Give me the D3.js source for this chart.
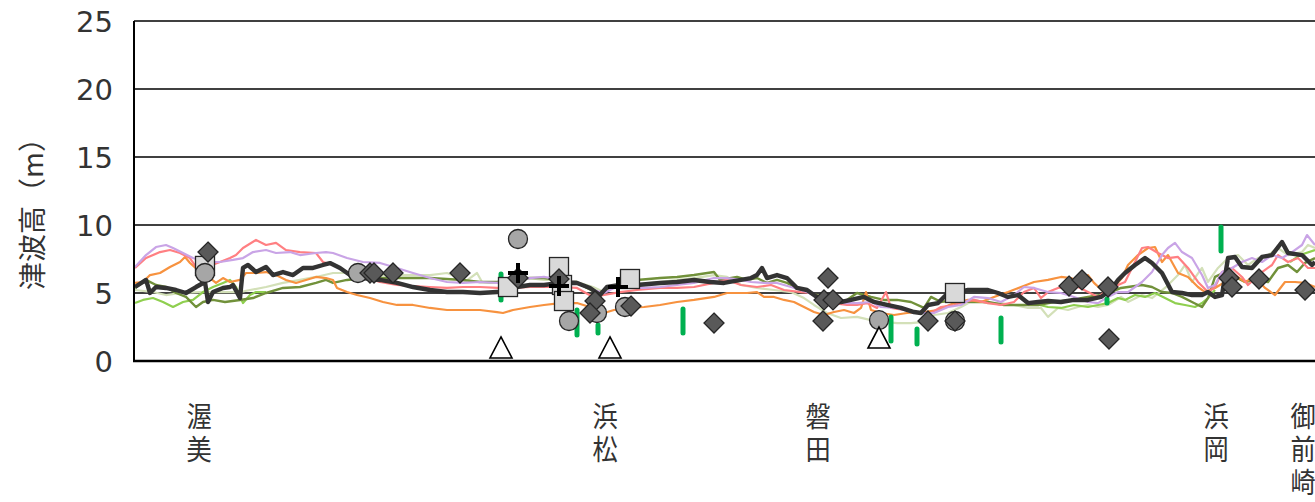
<!DOCTYPE html>
<html><head><meta charset="utf-8">
<script src="https://cdn.jsdelivr.net/npm/d3@7"></script>
<style>
html,body{margin:0;padding:0;background:#fff;}
svg{display:block;}
</style></head>
<body>
<svg id="chart" width="1315" height="502"></svg>
<script>
// ---- data (x = distance along coast, km; y = tsunami height, m) ----
const yTicks = [0, 5, 10, 15, 20, 25];
const categories = ["渥美", "浜松", "磐田", "浜岡", "御前崎"];
const categoryPos = [6.4, 47.0, 68.3, 108.1, 116.8];

const seriesDark = [[0,5.44],[1.1,5.96],[1.5,5.0],[2.1,5.44],[3.1,5.37],[4.1,5.22],[5.1,5.0],[6.1,5.44],[7.0,5.81],[7.3,4.34],[7.8,5.07],[8.8,5.37],[9.5,5.44],[9.8,5.59],[10.5,4.63],[10.8,6.84],[11.3,7.06],[12.1,6.54],[13.1,6.91],[13.8,6.32],[14.8,6.54],[15.8,6.32],[16.8,6.84],[17.8,6.84],[18.8,7.06],[19.5,7.2],[20.5,6.84],[21.5,6.32],[22.8,6.1],[24.5,5.96],[26.2,5.74],[27.8,5.44],[29.5,5.22],[31.2,5.07],[32.8,5.07],[34.5,5.0],[36.2,5.07],[37.2,5.22],[38.2,5.44],[39.5,5.59],[40.9,5.59],[42.5,5.74],[44.2,5.74],[45.5,5.37],[46.5,4.85],[47.2,5.44],[48.5,5.59],[50.2,5.59],[52.5,5.74],[54.2,5.81],[55.9,5.96],[57.5,5.81],[58.9,5.74],[60.6,5.96],[61.6,6.1],[62.2,6.32],[62.7,6.84],[63.2,6.1],[64.2,6.32],[65.2,6.1],[66.2,5.37],[67.2,5.22],[67.9,4.85],[68.6,4.49],[69.6,4.34],[70.6,4.34],[71.6,4.49],[72.9,4.71],[73.9,4.34],[75.2,4.12],[76.6,3.9],[77.9,3.6],[78.6,3.53],[79.3,4.12],[80.3,4.26],[81.3,5.0],[82.3,5.07],[83.3,5.22],[84.3,5.22],[85.3,5.22],[86.3,5.0],[87.3,4.71],[88.3,4.85],[89.3,4.26],[90.3,4.34],[91.3,4.41],[92.6,4.34],[93.9,4.49],[95.3,4.49],[96.6,4.71],[97.6,5.22],[98.3,5.96],[99.0,6.47],[100.0,7.06],[101.0,7.57],[101.7,7.21],[102.7,6.47],[103.7,5.07],[104.7,5.0],[105.7,4.85],[106.7,4.85],[107.3,5.07],[108.0,4.71],[108.7,4.85],[109.3,7.57],[110.0,7.65],[110.7,6.91],[111.7,6.84],[112.7,7.65],[113.7,7.79],[114.7,8.75],[115.3,7.94],[116.7,7.79],[117.7,7.06],[118.0,7.28]];

const seriesPink = [[0,6.84],[1.1,7.57],[2.5,8.01],[3.5,8.16],[4.5,7.94],[5.5,7.57],[6.1,6.91],[7.0,6.84],[7.7,7.06],[8.5,7.28],[9.5,7.57],[10.1,7.79],[10.8,8.31],[12.1,8.9],[13.1,8.53],[14.1,8.68],[15.1,8.16],[16.5,8.01],[18.1,7.94],[18.8,7.28],[19.8,7.06],[21.2,6.54],[22.8,6.18],[24.5,5.81],[26.2,5.59],[29.5,5.44],[31.2,5.37],[32.8,5.44],[34.5,5.44],[36.2,5.37],[37.8,5.37],[39.5,5.44],[42.5,5.44],[44.2,5.37],[45.8,4.71],[46.9,4.85],[48.5,5.07],[50.2,5.22],[52.5,5.37],[54.2,5.37],[55.9,5.44],[57.9,5.74],[59.2,5.96],[60.6,5.59],[62.2,5.44],[63.6,5.59],[64.9,5.22],[66.6,5.07],[67.6,5.0],[68.6,4.63],[69.9,4.26],[71.2,4.12],[72.2,4.12],[73.2,4.26],[74.2,3.9],[75.1,5.07],[75.6,3.9],[76.9,3.75],[78.2,3.6],[79.6,3.53],[80.6,3.97],[81.9,4.12],[82.9,4.34],[83.9,4.49],[85.3,4.26],[86.6,4.12],[87.9,4.34],[88.9,5.07],[89.9,5.37],[90.6,4.63],[91.3,5.07],[92.3,5.37],[93.3,5.44],[94.3,5.44],[95.3,5.07],[96.3,4.71],[97.3,5.22],[98.3,5.59],[99.0,5.81],[99.7,6.84],[100.7,8.31],[101.3,8.38],[102.3,7.94],[103.3,7.57],[104.3,7.65],[105.3,6.84],[106.3,5.81],[107.3,5.07],[108.0,5.44],[108.7,6.54],[109.7,6.84],[110.7,6.18],[111.3,5.59],[112.7,6.54],[113.7,7.06],[114.3,7.79],[115.3,7.28],[116.3,7.57],[117.3,6.84],[118.0,6.84]];

const seriesPurple = [[0,6.91],[1.1,7.79],[2.1,8.38],[3.1,8.53],[3.8,8.31],[4.8,7.94],[5.8,7.57],[7.0,7.28],[8.5,7.28],[9.8,7.43],[10.8,7.57],[11.8,8.01],[13.1,8.16],[14.1,7.94],[15.5,8.01],[16.5,7.79],[18.1,7.94],[19.1,8.01],[19.8,7.94],[21.2,7.57],[22.8,7.28],[24.5,7.21],[26.2,6.84],[27.8,6.47],[29.5,6.1],[31.2,5.81],[32.8,5.74],[34.5,5.81],[36.2,5.74],[37.8,5.96],[39.5,6.1],[40.9,6.18],[42.5,5.96],[44.2,5.81],[45.8,5.22],[46.9,5.0],[47.9,5.37],[49.2,5.37],[50.9,5.37],[52.5,5.44],[54.2,5.59],[55.9,5.74],[57.9,6.1],[59.2,6.1],[60.6,5.96],[61.6,5.81],[62.9,5.74],[64.2,5.74],[65.6,5.44],[67.2,5.07],[68.2,4.71],[69.6,4.49],[70.9,4.26],[72.2,4.26],[73.6,4.34],[74.6,3.97],[76.2,3.9],[77.6,3.6],[78.9,3.53],[79.9,3.53],[81.3,3.97],[82.6,4.12],[83.9,4.71],[85.3,4.63],[86.6,4.34],[87.9,4.85],[88.9,5.44],[89.9,5.37],[91.3,5.07],[92.6,5.0],[93.9,4.71],[95.3,4.34],[96.3,4.26],[97.3,4.71],[98.3,5.07],[99.3,5.07],[100.7,5.81],[101.7,6.54],[102.7,7.79],[103.3,8.31],[104.0,8.68],[104.7,8.01],[105.7,7.57],[106.7,6.32],[107.3,5.37],[108.0,5.59],[108.7,6.54],[109.7,6.84],[110.7,7.28],[111.7,7.57],[112.7,7.28],[113.7,7.79],[114.7,7.57],[115.7,8.01],[116.7,8.53],[117.2,9.26],[118.0,8.53]];

const seriesOrange = [[0,5.74],[0.8,5.81],[1.5,6.32],[2.5,6.47],[3.5,6.91],[4.5,7.28],[5.0,7.65],[5.5,7.21],[6.5,6.54],[7.5,6.1],[8.1,5.74],[8.8,6.1],[9.5,5.81],[10.5,5.96],[11.1,6.47],[12.1,6.47],[13.1,6.54],[14.1,6.32],[15.1,5.96],[16.1,5.74],[17.1,5.96],[18.1,6.18],[19.1,6.1],[19.8,5.96],[20.2,5.37],[21.2,5.07],[22.2,4.85],[23.5,4.63],[24.8,4.34],[26.2,4.12],[27.8,4.12],[29.5,3.9],[31.2,3.75],[32.8,3.75],[34.5,3.75],[36.2,3.6],[36.8,3.53],[37.8,3.75],[39.5,3.97],[40.9,4.12],[42.5,4.26],[44.2,4.26],[45.8,3.9],[46.9,3.53],[47.9,3.75],[49.2,3.9],[50.9,3.97],[52.5,4.12],[54.2,4.34],[55.9,4.49],[57.9,4.71],[59.2,5.0],[60.2,5.0],[61.2,5.0],[62.2,5.07],[62.9,4.71],[63.9,4.71],[64.9,4.49],[65.9,4.34],[66.9,3.97],[67.9,3.6],[68.9,3.38],[69.9,3.6],[70.9,3.75],[71.9,3.53],[72.6,3.9],[73.1,5.07],[73.6,3.75],[74.6,3.53],[75.9,3.38],[77.2,3.53],[78.2,3.6],[78.9,3.6],[80.3,3.75],[81.9,4.26],[83.3,4.49],[84.6,4.34],[85.9,4.71],[87.3,5.07],[88.6,5.44],[89.9,5.81],[91.3,5.96],[92.6,6.18],[93.6,6.1],[94.6,5.74],[95.3,6.32],[95.9,5.74],[96.9,5.07],[97.9,5.44],[98.7,6.1],[99.3,7.06],[100.3,7.79],[101.3,8.31],[102.0,8.38],[102.7,7.28],[103.3,7.79],[104.3,6.47],[105.3,6.18],[106.3,5.44],[107.0,5.07],[108.0,5.37],[109.0,5.81],[110.0,6.32],[111.0,5.81],[112.0,6.18],[113.0,5.37],[114.0,4.85],[115.0,5.81],[116.0,5.81],[117.0,5.74],[118.0,5.44]];

const seriesPale = [[0,5.22],[1.8,5.07],[3.1,4.85],[4.5,5.0],[6.5,5.07],[8.5,5.07],[10.5,5.07],[11.5,5.22],[13.1,5.44],[14.8,5.74],[16.5,5.96],[18.1,6.18],[19.8,6.47],[21.2,6.47],[22.8,6.32],[26.2,6.32],[29.5,6.32],[31.2,6.47],[32.2,6.18],[32.8,5.74],[33.5,6.1],[34.2,6.47],[34.7,5.81],[35.5,5.74],[37.2,5.81],[39.5,6.1],[40.9,5.96],[42.5,5.96],[44.2,5.81],[45.8,5.44],[46.9,5.07],[47.9,5.44],[49.2,5.59],[52.5,5.81],[54.2,5.96],[55.9,6.1],[57.9,6.32],[59.2,6.18],[60.6,5.59],[62.2,5.37],[63.9,5.22],[65.6,5.07],[66.9,4.63],[67.9,4.12],[69.2,3.53],[70.6,3.16],[72.2,3.24],[73.6,3.01],[74.9,2.87],[76.2,2.79],[77.6,2.79],[78.9,2.87],[79.9,3.38],[81.3,3.53],[82.6,3.97],[83.9,4.49],[85.3,4.26],[86.6,4.26],[87.9,4.12],[89.3,3.9],[90.6,3.9],[91.3,3.24],[92.3,3.9],[93.3,3.75],[94.3,3.97],[95.3,4.12],[96.3,3.97],[97.3,4.12],[98.6,4.71],[99.3,4.34],[100.7,4.85],[101.7,4.63],[103.0,5.37],[104.3,6.32],[105.0,7.06],[105.7,5.81],[106.7,6.84],[107.3,5.81],[108.3,6.84],[109.3,7.57],[110.3,7.79],[111.3,7.06],[112.3,7.57],[113.3,7.79],[114.3,8.31],[115.3,7.79],[116.7,8.01],[117.3,8.53],[118.0,8.31]];

const seriesOlive = [[0,5.37],[1.1,5.96],[2.1,5.59],[3.1,5.44],[4.1,5.0],[5.1,4.71],[6.1,3.97],[6.8,4.34],[7.8,4.49],[9.0,4.34],[10.5,4.49],[11.8,4.63],[13.1,5.0],[14.8,5.37],[16.5,5.44],[18.1,5.74],[19.1,5.96],[19.8,5.74],[21.2,5.96],[22.8,6.1],[26.2,6.1],[29.5,6.1],[32.8,5.96],[34.5,5.81],[36.2,5.81],[37.8,5.96],[39.5,6.1],[40.9,6.1],[42.5,5.96],[44.2,5.81],[45.2,5.37],[46.2,5.0],[47.2,5.22],[48.5,5.74],[50.2,5.96],[52.5,6.1],[54.2,6.18],[55.9,6.32],[57.9,6.54],[58.5,5.96],[60.2,6.18],[61.2,5.96],[62.2,6.1],[63.2,5.74],[64.2,5.96],[65.2,5.74],[66.2,5.37],[67.2,5.07],[68.2,4.85],[69.6,4.49],[70.9,4.34],[72.2,5.0],[73.6,4.71],[74.9,4.49],[76.2,4.49],[77.6,4.34],[78.9,3.9],[79.6,4.71],[80.6,4.34],[81.9,4.49],[83.6,4.34],[85.3,4.34],[86.9,4.12],[88.6,4.12],[90.3,4.12],[91.9,4.34],[93.6,4.49],[95.3,4.71],[96.6,4.85],[97.6,5.07],[98.6,5.37],[99.3,5.44],[100.7,5.59],[101.7,5.44],[102.7,5.07],[103.7,5.0],[104.7,4.71],[105.7,4.34],[106.7,3.97],[107.3,4.63],[108.0,6.18],[109.0,6.54],[110.0,6.18],[111.0,5.81],[112.0,5.96],[113.3,5.81],[114.3,6.84],[115.3,7.06],[116.2,6.54],[117.0,7.21],[118.0,7.57]];

const seriesBright = [[0,4.26],[0.8,4.49],[1.8,4.63],[2.8,4.34],[3.8,3.97],[4.8,4.34],[5.8,4.49],[6.8,5.07],[7.8,5.44],[8.8,5.74],[9.5,5.96],[10.1,5.44],[10.8,4.26],[11.5,4.85],[12.1,5.07],[13.1,5.07],null,[90.5,4.12],[91.3,3.97],[92.6,3.9],[93.9,4.12],[95.3,3.97],[96.3,4.12],[97.3,4.26],[98.3,4.63],[99.0,4.49],[100.0,4.85],[101.0,4.71],[102.0,5.0],[103.0,4.63],[104.0,4.26],[105.0,4.12],[106.0,3.97],[106.7,4.26],[107.3,4.63],[108.0,5.22],null,[115.5,7.28],[116.5,7.79],[118.0,8.16]];

// markers: [x km, height m]
const circlePts = [[7.0,6.47],[22.3,6.47],[38.3,8.97],[43.4,2.94],[46.2,3.53],[49.0,3.97],[74.4,3.01],[82.0,2.94]];
const squarePts = [[7.0,6.99],[37.3,5.44],[42.4,6.91],[42.7,5.59],[42.9,4.41],[49.5,6.03],[82.0,5.0]];
const diamondPts = [[7.3,8.01],[23.5,6.47],[23.9,6.47],[25.8,6.47],[32.5,6.47],[38.3,6.1],[42.4,6.03],[46.0,4.41],[45.5,3.53],[49.6,4.04],[57.9,2.79],[69.3,6.1],[68.9,4.49],[69.8,4.49],[68.8,2.94],[79.3,2.94],[82.0,2.94],[93.4,5.51],[94.7,5.96],[97.3,5.44],[97.4,1.62],[109.4,6.1],[109.7,5.44],[112.4,6.03],[117.0,5.22]];
const trianglePts = [[36.6,0.96],[47.5,0.96],[74.4,1.69]];
const crossPts = [[38.3,6.47],[42.4,5.51],[48.3,5.44]];
// vertical ranges: [x km, low m, high m]
const rangeBars = [[36.6,4.34,6.54],[44.2,1.76,3.9],[46.3,1.91,2.79],[54.8,1.91,3.97],[75.6,1.32,3.38],[78.2,1.1,2.5],[86.6,1.25,3.31],[97.2,4.12,4.71],[108.6,7.94,10.0]];

// ---- drawing ----
const svg = d3.select("#chart");
const x = d3.scaleLinear().domain([0, 120]).range([135, 1335]);
const y = d3.scaleLinear().domain([0, 25]).range([361, 21]);

// gridlines
svg.append("g").selectAll("line").data(yTicks.filter(d => d > 0)).join("line")
  .attr("x1", 134).attr("x2", 1315)
  .attr("y1", d => y(d)).attr("y2", d => y(d))
  .attr("stroke", "#000").attr("stroke-width", 1.6);

// tick labels
svg.append("g").selectAll("text").data(yTicks).join("text")
  .attr("x", 113).attr("y", d => y(d) + 10.5)
  .attr("text-anchor", "end")
  .attr("font-family", "DejaVu Sans, sans-serif").attr("font-size", 29)
  .attr("fill", "#333")
  .text(d => d);

// y title
svg.append("text")
  .attr("transform", "translate(43,207) rotate(-90)")
  .attr("text-anchor", "middle")
  .attr("font-family", "Noto Sans CJK JP, sans-serif").attr("font-size", 28)
  .attr("fill", "#333")
  .text("津波高（m）");

// lines
const line = d3.line().defined(d => d !== null).x(d => x(d[0])).y(d => y(d[1]));
const seriesList = [
  {data: seriesPale, color: "#d3e0b8", w: 2.2},
  {data: seriesBright, color: "#8fcf4f", w: 2.2},
  {data: seriesOlive, color: "#71913a", w: 2.4},
  {data: seriesOrange, color: "#f7923f", w: 2.2},
  {data: seriesPink, color: "#ff7f82", w: 2.2},
  {data: seriesPurple, color: "#c9a4e6", w: 2.2},
  {data: seriesDark, color: "#333333", w: 4.4}
];
svg.append("g").selectAll("path").data(seriesList).join("path")
  .attr("d", d => line(d.data))
  .attr("fill", "none").attr("stroke", d => d.color).attr("stroke-width", d => d.w)
  .attr("stroke-linejoin", "round");

// axes lines (left + bottom)
svg.append("line").attr("x1", 134).attr("x2", 134).attr("y1", y(25)).attr("y2", y(0) + 1)
  .attr("stroke", "#000").attr("stroke-width", 2);
svg.append("line").attr("x1", 133).attr("x2", 1315).attr("y1", y(0)).attr("y2", y(0))
  .attr("stroke", "#000").attr("stroke-width", 2.4);

// range bars
svg.append("g").selectAll("line").data(rangeBars).join("line")
  .attr("x1", d => x(d[0])).attr("x2", d => x(d[0]))
  .attr("y1", d => y(d[1]) - 2).attr("y2", d => y(d[2]) + 2)
  .attr("stroke", "#00b050").attr("stroke-width", 5).attr("stroke-linecap", "round");

const mk = svg.append("g").attr("stroke", "#262626").attr("stroke-width", 1.3);
// squares
mk.selectAll(".sq").data(squarePts).join("rect").attr("class", "sq")
  .attr("x", d => x(d[0]) - 9.5).attr("y", d => y(d[1]) - 9.5)
  .attr("width", 19).attr("height", 19).attr("fill", "#d9d9d9");
// circles
mk.selectAll(".ci").data(circlePts).join("circle").attr("class", "ci")
  .attr("cx", d => x(d[0])).attr("cy", d => y(d[1])).attr("r", 9.5).attr("fill", "#a6a6a6");
// diamonds
mk.selectAll(".di").data(diamondPts).join("path").attr("class", "di")
  .attr("transform", d => `translate(${x(d[0])},${y(d[1])})`)
  .attr("d", "M0,-10L10,0L0,10L-10,0Z").attr("fill", "#595959");
// triangles
mk.selectAll(".tr").data(trianglePts).join("path").attr("class", "tr")
  .attr("transform", d => `translate(${x(d[0])},${y(d[1])})`)
  .attr("d", "M0,-11L11,10L-11,10Z").attr("fill", "#fff").attr("stroke", "#000").attr("stroke-width", 1.6);
// crosses
svg.append("g").selectAll("path").data(crossPts).join("path")
  .attr("transform", d => `translate(${x(d[0])},${y(d[1])})`)
  .attr("d", "M-10,0H10M0,-10V10").attr("stroke", "#000").attr("stroke-width", 4).attr("fill", "none");

// category labels (vertical writing, one column each)
svg.append("g").selectAll("text").data(categories).join("text")
  .attr("font-family", "Noto Sans CJK JP, sans-serif").attr("font-size", 28)
  .attr("fill", "#333")
  .style("writing-mode", "vertical-rl").style("text-orientation", "upright")
  .attr("letter-spacing", 5)
  .attr("transform", (d, i) => `translate(${x(categoryPos[i])},402) scale(0.9,1)`)
  .attr("x", 0).attr("y", 0)
  .text(d => d);
</script>
</body></html>
